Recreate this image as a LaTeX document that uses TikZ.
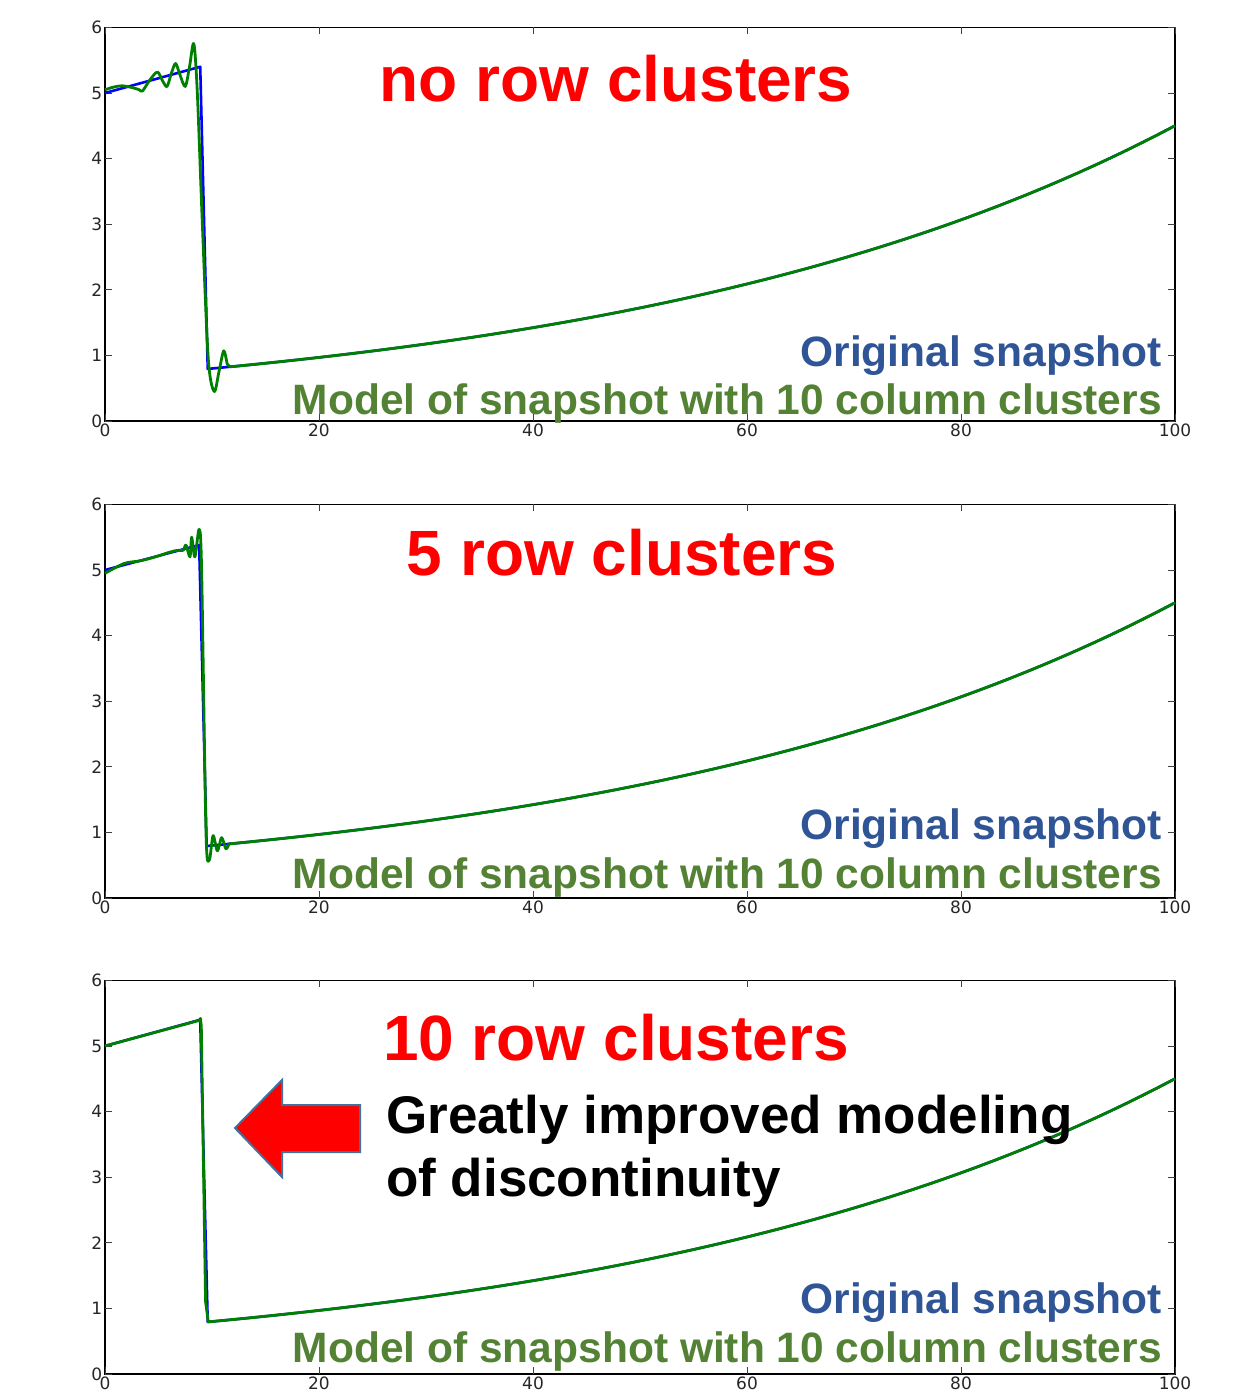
\documentclass[tikz,border=0pt]{standalone}
\usepackage{fontspec}
\setmainfont{Liberation Sans}
\newfontfamily\tickfont{DejaVu Sans}
\usetikzlibrary{positioning}
\definecolor{snapblue}{HTML}{2F5597}
\definecolor{modelgreen}{HTML}{548235}
\definecolor{linegreen}{HTML}{008000}
\definecolor{arrowedge}{HTML}{41719C}

\begin{document}
\begin{tikzpicture}[x=1pt,y=-1pt,
  frame/.style={line width=1.5pt, black},
  tickmark/.style={line width=0.9pt, black!75},
  ticklabel/.style={font=\tickfont\fontsize{17pt}{17pt}\selectfont, text=black!85, inner sep=2.5pt},
  orig/.style={line width=2.6pt, blue, line join=round},
  model/.style={line width=2.8pt, linegreen, line join=round},
  title/.style={font=\bfseries\fontsize{64pt}{64pt}\selectfont, text=red, inner sep=0pt, anchor=base},
  legend/.style={font=\bfseries\fontsize{42.5pt}{42.5pt}\selectfont, inner sep=0pt, anchor=base east},
  note/.style={font=\bfseries\fontsize{53pt}{53pt}\selectfont, inner sep=0pt, anchor=base west}]
\useasboundingbox (0,0) rectangle (1240,1393);

% axes of the three panels
\foreach \b/\n in {421/one,898/two,1374/three}{
  \begin{scope}[shift={(105,\b)},x=10.7pt,y=65.6pt]
    \draw[frame] (0,0) rectangle (100,6);
    \foreach \t in {0,20,...,100}{
      \draw[tickmark] (\t,0) -- ++(0pt,7pt);
      \draw[tickmark] (\t,6) -- ++(0pt,-7pt);
      \node[ticklabel, below] (xlab-\n-\t) at (\t,0) {\t};
    }
    \foreach \t in {0,...,6}{
      \draw[tickmark] (0,\t) -- ++(7pt,0pt);
      \draw[tickmark] (100,\t) -- ++(-7pt,0pt);
      \node[ticklabel, left] (ylab-\n-\t) at (0,\t) {\t};
    }
  \end{scope}
}

% no row clusters
\begin{scope}[shift={(105,421)},x=10.7pt,y=65.6pt]
  \draw[orig] (0,5) -- (8.9,5.4) -- (9.6,0.8) -- plot[domain=9.6:100,samples=60] (\x,{0.8*exp(0.0192*(\x-10))});
  \draw[model] plot[smooth] coordinates {(0,5.05) (0.8,5.09) (1.6,5.11) (2.6,5.08) (3.2,5.05) (3.5,5.03)
    (4.2,5.2) (4.9,5.32) (5.4,5.18) (5.8,5.1) (6.2,5.3) (6.6,5.45) (7.0,5.28) (7.5,5.1) (7.9,5.4)
    (8.3,5.75) (8.63,5.0) (9.1,3.0) (9.65,0.95) (10.2,0.45) (10.65,0.75) (11.1,1.07) (11.45,0.86) (11.8,0.83)}
    -- plot[domain=11.8:100,samples=60] (\x,{0.8*exp(0.0192*(\x-10))});
\end{scope}

% 5 row clusters
\begin{scope}[shift={(105,898)},x=10.7pt,y=65.6pt]
  \draw[orig] (0,5) -- (8.8,5.38) -- (9.5,0.8) -- plot[domain=9.5:100,samples=60] (\x,{0.8*exp(0.0192*(\x-10))});
  \draw[model] plot[smooth] coordinates {(0,4.95) (1.8,5.1) (3.3,5.14) (4.7,5.2) (6,5.27) (6.8,5.3)
    (7.3,5.3) (7.57,5.38) (7.94,5.2) (8.1,5.5) (8.4,5.2) (8.8,5.62) (9.03,5.0) (9.44,1.0) (9.75,0.58)
    (10.1,0.95) (10.5,0.72) (10.9,0.92) (11.3,0.75) (11.6,0.83)}
    -- plot[domain=11.6:100,samples=60] (\x,{0.8*exp(0.0192*(\x-10))});
\end{scope}

% 10 row clusters
\begin{scope}[shift={(105,1374)},x=10.7pt,y=65.6pt]
  \draw[orig] (0,5) -- (8.9,5.4) -- (9.6,0.8) -- plot[domain=9.6:100,samples=60] (\x,{0.8*exp(0.0192*(\x-10))});
  \draw[model] (0,5) -- (8.8,5.39) -- (8.92,5.42) -- (9.0,5.3) -- (9.4,1.1) -- (9.65,0.8)
    -- plot[domain=9.65:100,samples=60] (\x,{0.8*exp(0.0192*(\x-10))});
\end{scope}

% titles and legends
\node[title] (title-one) at (616,101) {no row clusters};
\node[title] (title-two) at (622,575) {5 row clusters};
\node[title] (title-three) at (616,1060) {10 row clusters};

\node[legend, text=snapblue] (orig-one) at (1162,366) {Original snapshot};
\node[legend, text=modelgreen] (model-one) at (1162,414) {Model of snapshot with 10 column clusters};
\node[legend, text=snapblue] (orig-two) at (1162,839) {Original snapshot};
\node[legend, text=modelgreen] (model-two) at (1162,888) {Model of snapshot with 10 column clusters};
\node[legend, text=snapblue] (orig-three) at (1162,1313) {Original snapshot};
\node[legend, text=modelgreen] (model-three) at (1162,1362) {Model of snapshot with 10 column clusters};

\node[note] (note-a) at (386,1133) {Greatly improved modeling};
\node[note] (note-b) at ([yshift=-63pt]note-a.base west) {of discontinuity};

% pointer
\filldraw[fill=red, draw=arrowedge, line width=2pt, line join=miter]
  (360,1105) -- (282,1105) -- (282,1080) -- (235,1128) -- (282,1177) -- (282,1152) -- (360,1152) -- cycle;
\end{tikzpicture}
\end{document}
